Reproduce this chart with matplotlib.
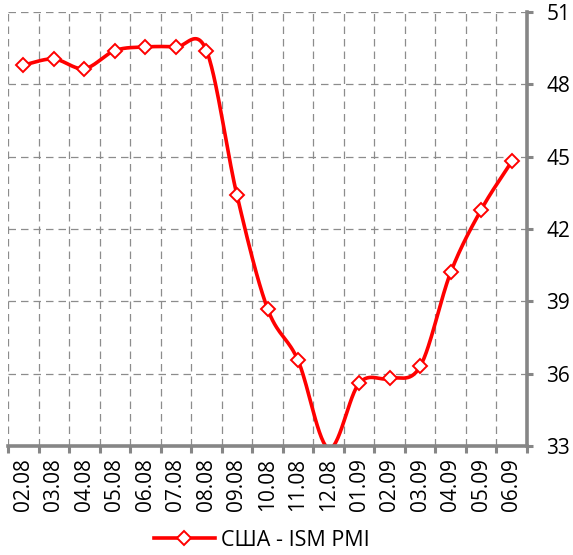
"""Recreate the US ISM PMI line chart (02.08 - 06.09)."""

import matplotlib

matplotlib.use("Agg")
import matplotlib.pyplot as plt
import numpy as np
from matplotlib.lines import Line2D

# --- data -------------------------------------------------------------------
months = ["02.08", "03.08", "04.08", "05.08", "06.08", "07.08", "08.08",
          "09.08", "10.08", "11.08", "12.08", "01.09", "02.09", "03.09",
          "04.09", "05.09", "06.09"]
ism_pmi = [48.8, 49.05, 48.65, 49.4, 49.55, 49.55, 49.4,
           43.4, 38.7, 36.55, 32.9, 35.6, 35.8, 36.3,
           40.2, 42.8, 44.8]
series_label = "США - ISM PMI"
y_ticks = [33, 36, 39, 42, 45, 48, 51]

RED = "#ff0000"
AXIS_GREY = "#868686"
GRID_GREY = "#8c8c8c"

plt.rcParams["font.family"] = ["Open Sans", "DejaVu Sans"]


def catmull_rom(x, y, steps=30):
    """Smooth curve through the points, like Excel's 'smoothed line'."""
    x = np.asarray(x, float)
    y = np.asarray(y, float)
    px = np.concatenate([[2 * x[0] - x[1]], x, [2 * x[-1] - x[-2]]])
    py = np.concatenate([[2 * y[0] - y[1]], y, [2 * y[-1] - y[-2]]])
    xs, ys = [], []
    t = np.linspace(0, 1, steps, endpoint=False)
    for i in range(1, len(px) - 2):
        for p, out in ((px, xs), (py, ys)):
            p0, p1, p2, p3 = p[i - 1], p[i], p[i + 1], p[i + 2]
            out.append(0.5 * (2 * p1 + (-p0 + p2) * t
                              + (2 * p0 - 5 * p1 + 4 * p2 - p3) * t ** 2
                              + (-p0 + 3 * p1 - 3 * p2 + p3) * t ** 3))
    xs.append([x[-1]])
    ys.append([y[-1]])
    return np.concatenate(xs), np.concatenate(ys)


x = np.arange(len(months))
ymin, ymax = y_ticks[0], y_ticks[-1]

fig = plt.figure(figsize=(5.73, 5.55), dpi=100)
ax = fig.add_axes([8 / 573, 1 - 446 / 555, (527 - 8) / 573, (446 - 12) / 555])

sx, sy = catmull_rom(x, ism_pmi)
ax.plot(sx, sy, color=RED, lw=2.6, solid_capstyle="round", zorder=3)

# Excel hides markers that fall outside the axis range
vals = np.array(ism_pmi)
shown = np.where(vals >= ymin, vals, np.nan)
ax.plot(x, shown, ls="none", marker="D", ms=7.6, mfc="white", mec=RED,
        mew=1.4, zorder=4)

ax.set_xlim(-0.5, len(months) - 0.5)
ax.set_ylim(ymin, ymax)

# category labels in the middle, tick marks on the boundaries
ax.set_xticks(x)
ax.set_xticklabels(months, rotation=90, fontsize=15)
ax.set_xticks(np.arange(len(months) + 1) - 0.5, minor=True)
ax.tick_params(axis="x", which="major", length=0, pad=8.5)
ax.tick_params(axis="x", which="minor", length=5, width=2.2,
               color=AXIS_GREY, direction="out")

ax.yaxis.tick_right()
ax.set_yticks(y_ticks)
ax.tick_params(axis="y", which="major", length=4, width=2.2,
               color=AXIS_GREY, labelsize=15, pad=10)

grid_style = dict(color=GRID_GREY, lw=0.9, ls=(0, (6, 4)))
for b in np.arange(len(months)) - 0.5:
    ax.axvline(b, zorder=1, **grid_style)
for yv in y_ticks[1:]:
    ax.axhline(yv, zorder=1, **grid_style)

for side in ("left", "top"):
    ax.spines[side].set_visible(False)
for side in ("right", "bottom"):
    ax.spines[side].set_color(AXIS_GREY)
    ax.spines[side].set_linewidth(2.6)
    ax.spines[side].set_zorder(5)

handle = Line2D([], [], color=RED, lw=2.6, marker="D", ms=7.6, mfc="white",
                mec=RED, mew=1.4)
fig.legend([handle], [series_label], loc="center",
           bbox_to_anchor=(262 / 573, 1 - 540 / 555), frameon=False,
           fontsize=15.5, handlelength=2.8, handletextpad=0.3,
           borderpad=0)

fig.savefig("out.png", dpi=100)
plt.close(fig)
